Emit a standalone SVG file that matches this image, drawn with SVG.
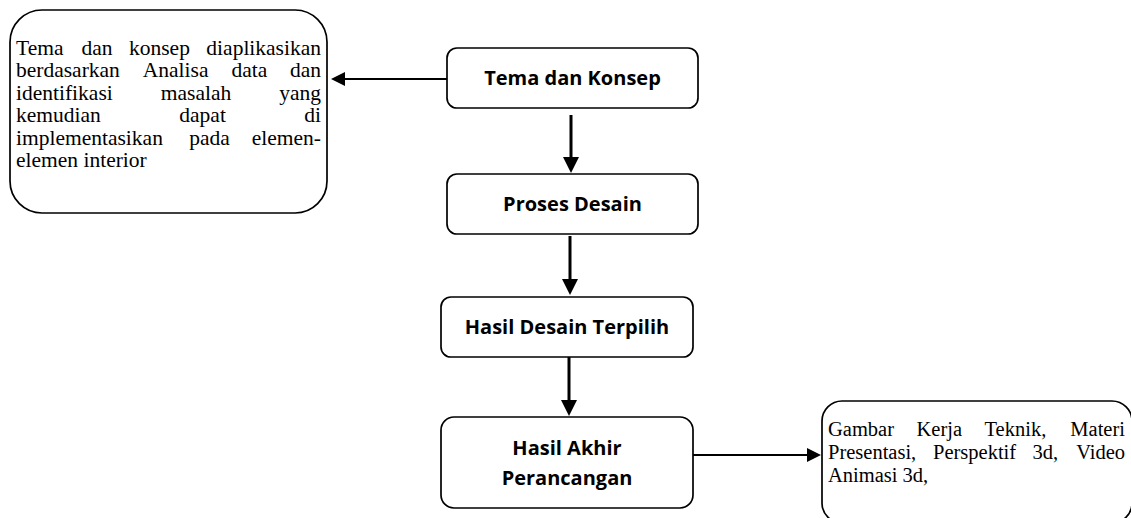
<svg xmlns="http://www.w3.org/2000/svg" width="1131" height="518" viewBox="0 0 1131 518">
<style>
.box{fill:#fff;stroke:#000;stroke-width:1.7}
.ser{font-family:"Liberation Serif","Times New Roman",serif;font-size:21.5px;fill:#000}
.ser2{font-family:"Liberation Serif","Times New Roman",serif;font-size:20.5px;fill:#000}
.bold{font-family:"Open Sans","Noto Sans",sans-serif;font-weight:bold;font-size:20px;fill:#000;text-anchor:middle}
.v{stroke:#000;stroke-width:3;fill:none}
.h{stroke:#000;stroke-width:2;fill:none}
</style>
<defs>
<marker id="av" markerUnits="userSpaceOnUse" markerWidth="18" markerHeight="18" refX="9" refY="8" orient="auto"><path d="M0,0 L16,8 L0,16 Z" fill="#000"/></marker>
<marker id="ah" markerUnits="userSpaceOnUse" markerWidth="16" markerHeight="16" refX="7" refY="7" orient="auto"><path d="M0,0 L14,7 L0,14 Z" fill="#000"/></marker>
</defs>
<g id="connectors">
<line class="h" x1="447" y1="79" x2="338" y2="79" marker-end="url(#ah)"/>
<line class="v" x1="571" y1="115" x2="571" y2="166" marker-end="url(#av)"/>
<line class="v" x1="570" y1="236" x2="570" y2="288" marker-end="url(#av)"/>
<line class="v" x1="569" y1="357" x2="569" y2="409" marker-end="url(#av)"/>
<line class="h" x1="693" y1="455" x2="814" y2="455" marker-end="url(#ah)"/>
</g>
<g id="note-left">
<rect class="box" x="10" y="10" width="317" height="203" rx="32"/>
<text class="ser" y="54.5"><tspan x="16">Tema</tspan><tspan x="81.5">dan</tspan><tspan x="129">konsep</tspan><tspan x="321" text-anchor="end">diaplikasikan</tspan></text>
<text class="ser" y="77"><tspan x="16">berdasarkan</tspan><tspan x="142.8">Analisa</tspan><tspan x="231.4">data</tspan><tspan x="321" text-anchor="end">dan</tspan></text>
<text class="ser" y="99.5"><tspan x="16">identifikasi</tspan><tspan x="160.8">masalah</tspan><tspan x="321" text-anchor="end">yang</tspan></text>
<text class="ser" y="122"><tspan x="16">kemudian</tspan><tspan x="179.3">dapat</tspan><tspan x="321" text-anchor="end">di</tspan></text>
<text class="ser" y="144.5"><tspan x="16">implementasikan</tspan><tspan x="189.2">pada</tspan><tspan x="321" text-anchor="end">elemen-</tspan></text>
<text class="ser" x="16" y="167">elemen interior</text>
</g>
<g id="tema">
<rect class="box" x="447" y="48" width="251" height="60" rx="10"/>
<text class="bold" x="572.5" y="85">Tema dan Konsep</text>
</g>
<g id="proses">
<rect class="box" x="447" y="174" width="251" height="60" rx="10"/>
<text class="bold" x="572.5" y="211">Proses Desain</text>
</g>
<g id="terpilih">
<rect class="box" x="441" y="297" width="252" height="60" rx="10"/>
<text class="bold" x="567" y="334">Hasil Desain Terpilih</text>
</g>
<g id="akhir">
<rect class="box" x="441" y="417" width="252" height="91" rx="13"/>
<text class="bold" x="567" y="455">Hasil Akhir</text>
<text class="bold" x="567" y="485">Perancangan</text>
</g>
<g id="note-right">
<rect class="box" x="822" y="401" width="310" height="122" rx="20"/>
<text class="ser2" y="436"><tspan x="828">Gambar</tspan><tspan x="916.5">Kerja</tspan><tspan x="984.5">Teknik,</tspan><tspan x="1125" text-anchor="end">Materi</tspan></text>
<text class="ser2" y="459"><tspan x="828">Presentasi,</tspan><tspan x="933">Perspektif</tspan><tspan x="1032.6">3d,</tspan><tspan x="1125" text-anchor="end">Video</tspan></text>
<text class="ser2" x="828" y="482">Animasi 3d,</text>
</g>
</svg>
